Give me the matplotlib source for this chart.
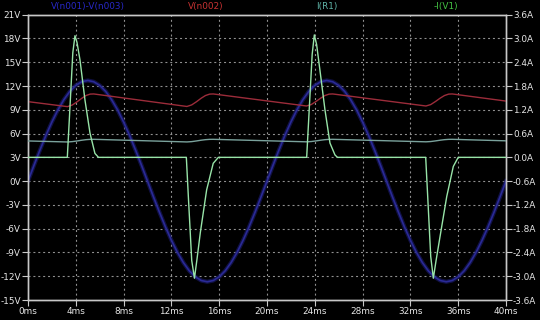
import matplotlib
matplotlib.use("Agg")
import matplotlib.pyplot as plt
from matplotlib.ticker import FixedLocator

# ---- data ----
t_blue = [i * 0.5 for i in range(81)]
v_blue = [0.0, 1.99, 3.92, 5.77, 7.46, 8.98, 10.27, 11.32, 12.08, 12.54,
          12.7, 12.54, 12.08, 11.32, 10.27, 8.98, 7.46, 5.77, 3.92, 1.99,
          0.0, -1.99, -3.92, -5.77, -7.46, -8.98, -10.27, -11.32, -12.08, -12.54,
          -12.7, -12.54, -12.08, -11.32, -10.27, -8.98, -7.46, -5.77, -3.92, -1.99,
          0.0, 1.99, 3.92, 5.77, 7.46, 8.98, 10.27, 11.32, 12.08, 12.54,
          12.7, 12.54, 12.08, 11.32, 10.27, 8.98, 7.46, 5.77, 3.92, 1.99,
          0.0, -1.99, -3.92, -5.77, -7.46, -8.98, -10.27, -11.32, -12.08, -12.54,
          -12.7, -12.54, -12.08, -11.32, -10.27, -8.98, -7.46, -5.77, -3.92, -1.99,
          0.0]

t_red = [0, 3.3, 3.7, 4.1, 4.5, 4.85, 5.2, 5.5, 13.3, 13.7, 14.1, 14.5, 14.85, 15.2, 15.5,
         23.3, 23.7, 24.1, 24.5, 24.85, 25.2, 25.5, 33.3, 33.7, 34.1, 34.5, 34.85, 35.2, 35.5, 40]
v_red = [10.03, 9.4, 9.6, 10.0, 10.45, 10.8, 10.98, 11.0, 9.42, 9.62, 10.02, 10.47, 10.8, 10.98, 11.0,
         9.48, 9.66, 10.05, 10.48, 10.8, 10.98, 11.0, 9.48, 9.66, 10.05, 10.48, 10.8, 10.98, 11.0, 10.1]

t_r1 = t_red
i_r1 = [0.414, 0.388, 0.397, 0.413, 0.432, 0.446, 0.454, 0.455, 0.389, 0.397, 0.414, 0.433, 0.446, 0.454, 0.455,
        0.392, 0.399, 0.415, 0.433, 0.446, 0.454, 0.455, 0.392, 0.399, 0.415, 0.433, 0.446, 0.454, 0.455, 0.417]

t_green = [0, 3.29, 3.5, 3.75, 3.93, 4.1, 4.35, 4.77, 5.19, 5.6, 5.9,
           13.25, 13.42, 13.7, 13.93, 14.15, 14.42, 14.95, 15.5, 15.93,
           23.32, 23.55, 23.78, 23.96, 24.15, 24.43, 24.85, 25.27, 25.69, 25.9,
           33.28, 33.45, 33.7, 33.92, 34.15, 34.48, 35.04, 35.59, 36.0, 40]
i_green = [0, 0, 1.2, 2.64, 3.07, 2.9, 2.46, 1.44, 0.61, 0.10, 0,
           0, -1.0, -2.6, -3.05, -2.55, -1.9, -0.82, -0.15, 0,
           0, 1.3, 2.6, 3.09, 2.85, 2.2, 1.2, 0.36, 0.06, 0,
           0, -1.0, -2.5, -3.05, -2.6, -2.0, -0.99, -0.23, 0, 0]

x_ticks = list(range(0, 41, 4))
x_labels = [f"{v}ms" for v in x_ticks]
v_ticks = list(range(-15, 22, 3))
v_labels = [f"{v}V" for v in v_ticks]
a_ticks = [-3.6, -3.0, -2.4, -1.8, -1.2, -0.6, 0.0, 0.6, 1.2, 1.8, 2.4, 3.0, 3.6]
a_labels = [f"{v:.1f}A" for v in a_ticks]

titles = ["V(n001)-V(n003)", "V(n002)", "I(R1)", "-I(V1)"]

# ---- drawing ----
W, H = 540, 320
fig = plt.figure(figsize=(W / 100, H / 100), dpi=100, facecolor="black")
ax = fig.add_axes([28 / W, 1 - 300 / H, (506 - 28) / W, (300 - 14.7) / H])
ax.set_facecolor("black")
ax2 = ax.twinx()

ax.set_xlim(0, 40)
ax.set_ylim(-15, 21)
ax2.set_ylim(-3.6, 3.6)

grid_kw = dict(color="#909090", lw=0.8, ls=(0, (1.8, 2.6)))
for x in x_ticks[1:-1]:
    ax.axvline(x, **grid_kw, zorder=0)
for y in v_ticks[1:-1]:
    ax.axhline(y, **grid_kw, zorder=0)

ax.plot(t_blue, v_blue, color="#1c1c70", lw=3.0, alpha=0.6, zorder=2)
ax.plot(t_blue, v_blue, color="#2a2a96", lw=1.2, zorder=2)
ax.plot(t_red, v_red, color="#9c2c3a", lw=1.0, zorder=3)
ax2.plot(t_r1, i_r1, color="#7aa29c", lw=1.0, zorder=3)
ax2.plot(t_green, i_green, color="#98e4a8", lw=1.0, zorder=4)

ax.xaxis.set_major_locator(FixedLocator(x_ticks))
ax.set_xticklabels(x_labels)
ax.yaxis.set_major_locator(FixedLocator(v_ticks))
ax.set_yticklabels(v_labels)
ax2.yaxis.set_major_locator(FixedLocator(a_ticks))
ax2.set_yticklabels(a_labels)

for a in (ax, ax2):
    for s in a.spines.values():
        s.set_color("#c8c8c8")
        s.set_linewidth(1.0)
    a.tick_params(colors="#c8c8c8", labelcolor="#e6e6e6", labelsize=6.4,
                  length=4, width=0.8, direction="out", pad=1)

title_x = [88, 206, 327, 446]
title_c = ["#2828c8", "#c83232", "#5fb4a8", "#44c444"]
for txt, x, c in zip(titles, title_x, title_c):
    fig.text(x / W, 1 - 6 / H, txt, color=c, fontsize=6.4, ha="center", va="center")

fig.savefig("out.png", dpi=100, facecolor="black")
